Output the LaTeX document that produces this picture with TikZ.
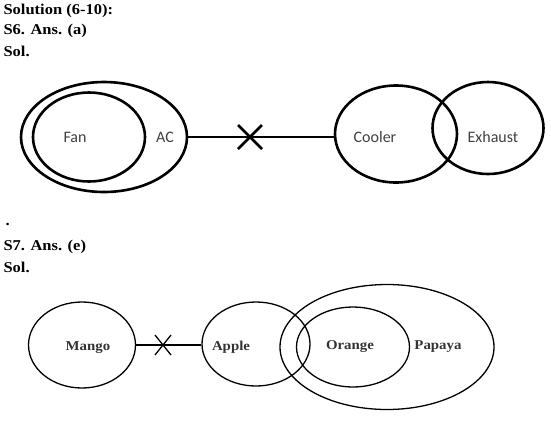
\documentclass[tikz,border=0pt]{standalone}
\usepackage{fontspec}
\setmainfont{Liberation Serif}
\newfontfamily\calib{Carlito}
\newfontfamily\widefont[FakeStretch = 1.1]{Liberation Serif}
\usetikzlibrary{shapes.geometric}

\tikzset{
  blob/.style = {draw, ellipse, inner sep = 0pt},
  heavy/.style = {line width = 2.6pt},
  light/.style = {line width = 1.3pt},
  head/.style = {anchor = west, font = \widefont\fontsize{15}{17}\selectfont\bfseries},
  sanslab/.style = {font = \calib\fontsize{16}{18}\selectfont, text = black!75},
  seriflab/.style = {font = \widefont\fontsize{13.5}{15}\selectfont\bfseries, text = black!80}
}

\begin{document}
\begin{tikzpicture}[x = 1pt, y = -1pt]
\useasboundingbox (0,0) rectangle (551,421);

\node [head] (sol) at (0,11) {Solution (6-10):};
\node [head] (ans6) at (0,31) {S6. Ans. (a)};
\node [head] (sol6) at (0,51) {Sol.};

% first question
\node [blob, heavy, minimum width = 166pt, minimum height = 110pt] (ac) at (104,137) {};
\node [blob, heavy, minimum width = 112pt, minimum height = 89pt] (fan) at (89,137) {};
\node [blob, heavy, minimum width = 122pt, minimum height = 97pt] (cooler) at (396,134) {};
\node [blob, heavy, minimum width = 111pt, minimum height = 92pt] (exhaust) at (488,128) {};

\node [sanslab] (fanl) at (75,137) {Fan};
\node [sanslab] (acl) at (165,137) {AC};
\node [sanslab] (coolerl) at (375,137) {Cooler};
\node [sanslab] (exhaustl) at (493,137) {Exhaust};

\draw [heavy] (ac.east) -- (cooler.west |- ac.east);
\coordinate (cut1) at (250,137);
\draw [heavy] ([shift = {(-12,-12)}]cut1) -- ([shift = {(12,12)}]cut1)
              ([shift = {(-12,12)}]cut1) -- ([shift = {(12,-12)}]cut1);

\node [head] (dot) at (2,224) {.};
\node [head] (ans7) at (0,247) {S7. Ans. (e)};
\node [head] (sol7) at (0,267) {Sol.};

% second question
\node [blob, light, minimum width = 107pt, minimum height = 86pt] (mango) at (82,345) {};
\node [blob, light, minimum width = 108pt, minimum height = 84pt] (apple) at (256,344) {};
\node [blob, light, minimum width = 113pt, minimum height = 80pt] (orange) at (353,347) {};
\node [blob, light, minimum width = 214pt, minimum height = 125pt] (papaya) at (387,347) {};

\node [seriflab] (mangol) at (88,348) {Mango};
\node [seriflab] (applel) at (231,347) {Apple};
\node [seriflab] (orangel) at (350,347) {Orange};
\node [seriflab] (papayal) at (438,347) {Papaya};

\draw [light] (mango.east) -- (apple.west |- mango.east);
\coordinate (cut2) at (163,345);
\draw [light] ([shift = {(-8,-10)}]cut2) -- ([shift = {(8,10)}]cut2)
              ([shift = {(-8,10)}]cut2) -- ([shift = {(8,-10)}]cut2);

\end{tikzpicture}
\end{document}
